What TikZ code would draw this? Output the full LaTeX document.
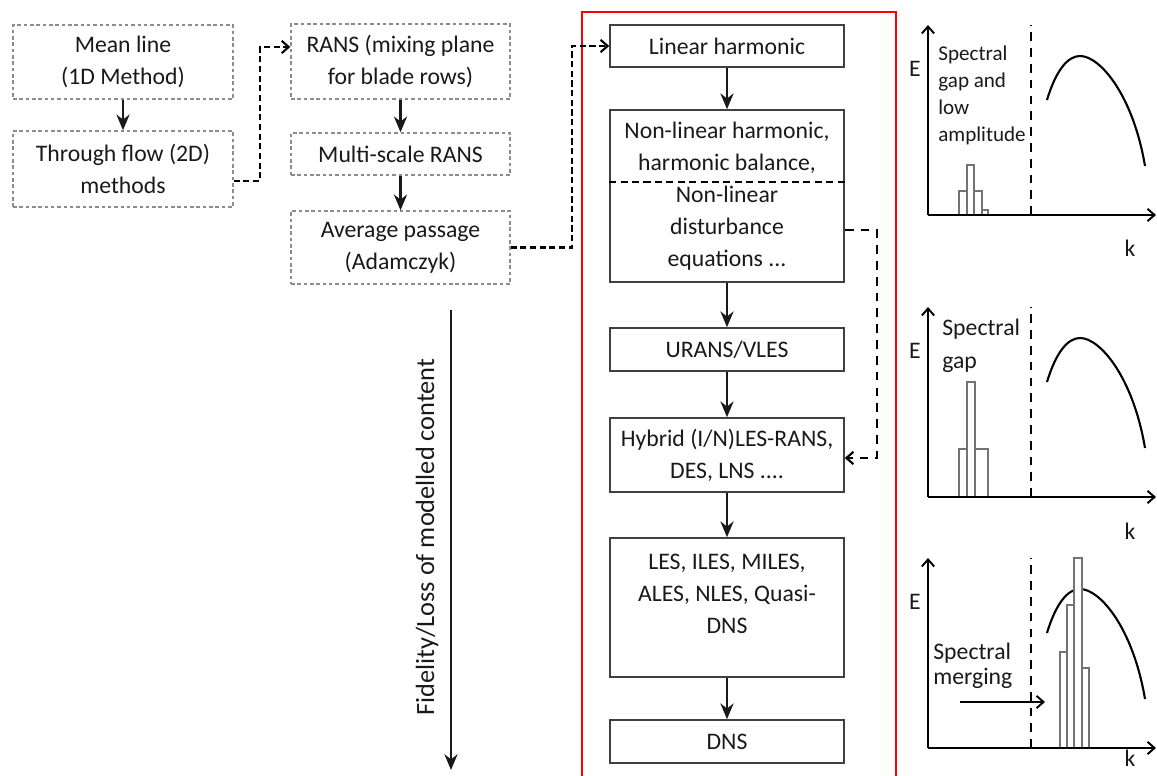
\documentclass[tikz,border=0pt]{standalone}
\usepackage{fontspec}
\setmainfont{Carlito}
\usetikzlibrary{arrows.meta, calc}

\tikzset{
  oldbox/.style = {draw=black!45, dash pattern=on 2pt off 1.6pt, line width=0.8pt,
    align=center, inner sep=0pt, text=black!90, font=\fontsize{13.5}{18.2}\selectfont},
  newbox/.style = {draw=black!75, line width=0.9pt, minimum width=4.68cm,
    align=center, inner sep=0pt, text=black!90, font=\fontsize{13.5}{18.2}\selectfont},
  boxtext/.style = {align=center, inner sep=0pt, text=black!90, font=\fontsize{13.5}{18.2}\selectfont},
  flow/.style = {-{Stealth[length=9pt,width=7.5pt]}, line width=1.2pt, black!90},
  jump/.style = {-{Straight Barb[length=4pt,width=7pt]}, line width=1.2pt, dash pattern=on 3.5pt off 2pt},
  longjump/.style = {-{Straight Barb[length=4pt,width=7pt]}, line width=1.2pt, dash pattern=on 5pt off 4pt},
  axis/.style = {-{Straight Barb[length=4pt,width=7pt]}, line width=1.1pt},
  cut/.style = {dash pattern=on 5pt off 4pt, line width=1.3pt},
  bar/.style = {draw=black!55, fill=white, line width=0.6pt},
  plottext/.style = {align=left, inner sep=0pt, anchor=west, text=black!90},
}

\begin{document}
\begin{tikzpicture}[x=0.02cm, y=-0.02cm]
\useasboundingbox (0,0) rectangle (1157,776);

\node[oldbox, minimum width=4.4cm, minimum height=1.48cm] (mean) at (123,62) {Mean line\\(1D Method)};
\node[oldbox, minimum width=4.4cm, minimum height=1.52cm] (thru) at (123,169) {Through flow (2D)\\methods};
\node[oldbox, minimum width=4.38cm, minimum height=1.5cm] (rans) at (400.5,61.5) {RANS (mixing plane\\for blade rows)};
\node[oldbox, minimum width=4.38cm, minimum height=0.84cm] (multi) at (400.5,154) {Multi-scale RANS};
\node[oldbox, minimum width=4.38cm, minimum height=1.46cm] (avg) at (400.5,247.5) {Average passage\\(Adamczyk)};

\draw[flow] (mean) -- (thru);
\draw[flow] (rans) -- (multi);
\draw[flow] (multi) -- (avg);

\draw[red, line width=1.3pt] (582,777) -- (582,12) -- (896,12) -- (896,777);

\node[newbox, minimum height=0.84cm] (lin) at (727,46) {Linear harmonic};
\node[newbox, minimum height=3.44cm] (nlh) at (727,196) {Non-linear harmonic,\\harmonic balance,\\Non-linear\\disturbance\\equations ...};
\node[newbox, minimum height=0.86cm] (urans) at (727,349.5) {URANS/VLES};
\node[newbox, minimum height=1.48cm] (hyb) at (727,455) {Hybrid (I/N)LES-RANS,\\DES, LNS ....};
\node[newbox, minimum height=2.78cm] (les) at (727,607.5) {};
\node[boxtext, anchor=north] (lestxt) at ([yshift=-0.34cm]les.north) {LES, ILES, MILES,\\ALES, NLES, Quasi-\\DNS};
\node[newbox, minimum height=0.86cm] (dns) at (727,741.5) {DNS};

\draw[dash pattern=on 4pt off 2.5pt, line width=0.9pt] (nlh.west |- 0,182) -- (nlh.east |- 0,182);

\draw[flow] (lin) -- (nlh);
\draw[flow] (nlh) -- (urans);
\draw[flow] (urans) -- (hyb);
\draw[flow] (hyb) -- (les);
\draw[flow] (les) -- (dns);

\draw[jump] (thru.east |- 0,181) -| (260,47) -- (rans.west |- 0,47);
\draw[jump] (avg.east) -| (572,46) -- (lin.west);
\draw[longjump] (nlh.east |- 0,230) -| (877,458) -- (hyb.east |- 0,458);

\coordinate (fidtop) at (451,310);
\coordinate (fidbot) at (451,770);
\draw[flow, line width=0.9pt] (fidtop) -- (fidbot);
\node[rotate=90, text=black!90, font=\fontsize{15}{17}\selectfont] (fid) at (427,537) {Fidelity/Loss of modelled content};

\foreach \oy/\ky in {215/33, 497/34, 748/10} {
  \begin{scope}[shift={(928,\oy)}]
    \draw[line width=1.2pt] (119,-115) .. controls (128,-145) and (140,-159) .. (152,-159)
      .. controls (172,-159) and (205,-120) .. (217,-49);
    \draw[cut] (103,0) -- (103,-190);
    \node[text=black!90, font=\fontsize{13.5}{15}\selectfont] (E\oy) at (-13,-146) {E};
    \node[text=black!90, font=\fontsize{13.5}{15}\selectfont] (k\oy) at (202,\ky) {k};
  \end{scope}
}

\begin{scope}[shift={(928,215)}]
  \draw[bar] (31,0) rectangle (39,-24);
  \draw[bar] (39,0) rectangle (46,-50);
  \draw[bar] (46,0) rectangle (54,-24);
  \draw[bar] (54,0) rectangle (60,-5);
\end{scope}
\begin{scope}[shift={(928,497)}]
  \draw[bar] (31,0) rectangle (39,-48);
  \draw[bar] (39,0) rectangle (47,-115);
  \draw[bar] (47,0) rectangle (60,-48);
\end{scope}
\begin{scope}[shift={(928,748)}]
  \draw[bar] (132,0) rectangle (139,-96);
  \draw[bar] (139,0) rectangle (146,-143);
  \draw[bar] (146,0) rectangle (154,-190);
  \draw[bar] (154,0) rectangle (161,-80);
\end{scope}

\foreach \oy in {215, 497, 748} {
  \coordinate (o\oy) at (928,\oy);
  \draw[axis] (o\oy) -- ++(0,-190);
  \draw[axis] (o\oy) -- (1156,\oy);
}

\node[plottext, font=\fontsize{12}{15.4}\selectfont] (gapA) at (938,95) {Spectral\\gap and\\low\\amplitude};
\node[plottext, font=\fontsize{13.5}{18.8}\selectfont] (gapB) at (942,346) {Spectral\\gap};
\node[plottext, font=\fontsize{13.5}{14.5}\selectfont] (merge) at (933,666) {Spectral\\merging};

\coordinate (mstart) at (960,702);
\coordinate (mend) at (1045,702);
\draw[axis] (mstart) -- (mend);
\end{tikzpicture}
\end{document}
